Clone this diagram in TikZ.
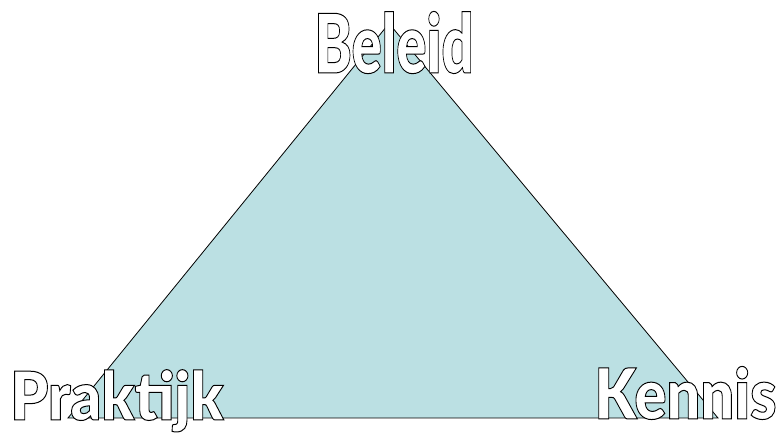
\documentclass[tikz,border=0pt]{standalone}
\usepackage{fontspec}
\setmainfont{Liberation Sans}
\newfontfamily\heavyfont{Lato Black}
\definecolor{tri_fill}{RGB}{187, 224, 227}
\newcommand{\hollowtext}[1]{\textcolor{white}{\special{pdf:literal 0 G 2 Tr 1 w}#1\special{pdf:literal 0 Tr}}}
\tikzset{
  corner label/.style={anchor=base, inner sep=0pt, font=\heavyfont}
}

\begin{document}
\begin{tikzpicture}[x=1pt, y=1pt]
        \useasboundingbox (0,0) rectangle (777,443);
        % corners of the triangle
        \coordinate (top) at (389,419.5);
        \coordinate (left) at (68,25);
        \coordinate (right) at (718,25);
        \draw[fill=tri_fill, line width=0.8pt] (left) -- (top) -- (right) -- cycle;
        % labels at the corners
        \node[corner label] (beleid) at (394,370)
          {\resizebox{159pt}{\height}{\fontsize{82}{82}\selectfont\hollowtext{Beleid}}};
        \node[corner label] (praktijk) at (117,23)
          {\resizebox{213pt}{\height}{\fontsize{67}{67}\selectfont\hollowtext{Praktijk}}};
        \node[corner label] (kennis) at (685.5,24)
          {\resizebox{182pt}{\height}{\fontsize{70}{70}\selectfont\hollowtext{Kennis}}};
      \end{tikzpicture}
\end{document}
